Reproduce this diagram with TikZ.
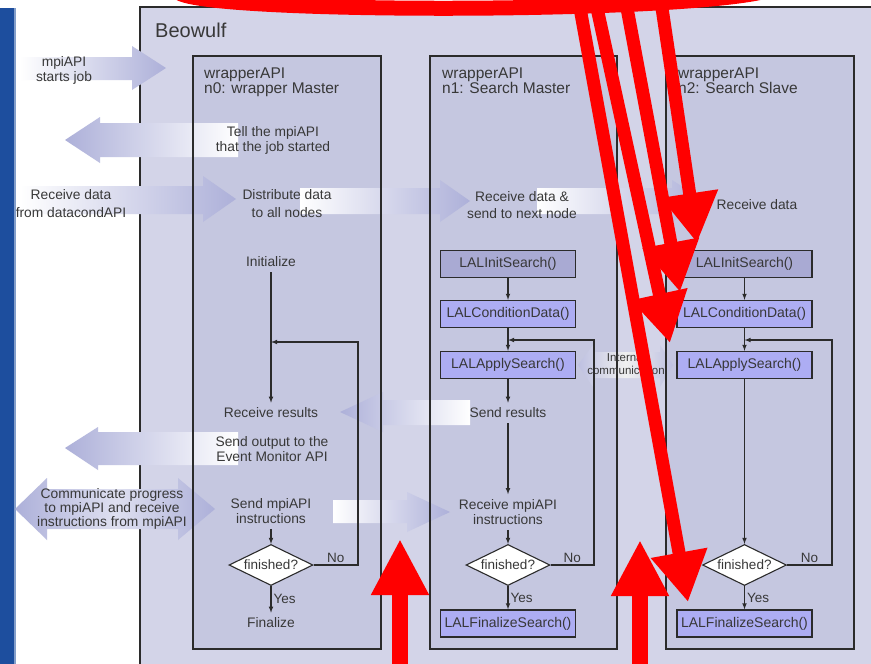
\documentclass[tikz,border=0pt]{standalone}
\usepackage{fontspec}
\setmainfont{Liberation Sans}
\usetikzlibrary{shapes.geometric,arrows.meta}
\definecolor{bluebar}{HTML}{1D4E9E}
\definecolor{beowulfbg}{HTML}{D3D4E8}
\definecolor{innerbg}{HTML}{C5C7E0}
\definecolor{initfill}{HTML}{A9AAD3}
\definecolor{lalfill}{HTML}{ADADF3}
\definecolor{lav}{HTML}{ADB0D9}
\definecolor{textc}{HTML}{383838}
\definecolor{linec}{HTML}{2B2B2B}
\tikzset{
  boxline/.style={draw=linec, line width=1.3pt},
  txt/.style={font=\fontsize{13.8}{15}\selectfont, text=textc, align=center, inner sep=5pt},
  lbl/.style={font=\fontsize{13.5}{14}\selectfont, text=textc, inner sep=2pt},
  coltitle/.style={font=\fontsize{15.5}{15}\selectfont, text=textc, align=left, anchor=north west, inner sep=0pt},
  lalbox/.style={draw=linec, line width=1.3pt, fill=lalfill, minimum width=135pt, minimum height=27pt, inner sep=0pt, font=\fontsize{14}{14}\selectfont, text=textc},
  decision/.style={diamond, draw=linec, fill=white, line width=1.1pt, shape aspect=2, minimum width=84pt, minimum height=41pt, inner sep=0.5pt, font=\fontsize{13.5}{14}\selectfont, text=textc},
  flow/.style={draw=linec, line width=1.1pt, >=latex, ->},
  redline/.style={draw=red, line width=15pt},
  redmark/.style={draw=red, line width=13pt, -{Triangle[length=50pt,width=54pt]}},
  redup/.style={draw=red, line width=16pt, -{Triangle[length=56pt,width=54pt]}},
}
\begin{document}
\begin{tikzpicture}[x=1pt,y=-1pt]
\useasboundingbox (0,0) rectangle (871,664);
\clip (0,0) rectangle (871,664);
\fill[white] (0,0) rectangle (871,664);
\fill[bluebar] (0,8) rectangle (14,664);
\fill[bluebar!55!white] (14,8) rectangle (16,664);
\fill[beowulfbg] (140,7) rectangle (880,680);
\draw[boxline] (880,7) -- (140,7) -- (140,680);
\fill[innerbg] (193,56) rectangle (381,649);
\fill[innerbg] (430,56) rectangle (617,649);
\fill[innerbg] (666,56) rectangle (854,649);
\shade[left color=white, right color=lav] (20,57) -- (132,57) -- (132,46) -- (166,68) -- (132,90) -- (132,80) -- (20,80) -- cycle;
\shade[left color=lav, right color=white] (238,123) -- (100,123) -- (100,117) -- (65,140) -- (100,163) -- (100,157) -- (238,157) -- cycle;
\shade[left color=white, right color=lav] (20,186) -- (203,186) -- (203,176) -- (236,199) -- (203,222) -- (203,214) -- (20,214) -- cycle;
\shade[left color=white, right color=lav] (300,188) -- (440,188) -- (440,180) -- (470,201) -- (440,222) -- (440,214) -- (300,214) -- cycle;
\shade[left color=white, right color=lav] (537,188) -- (672,188) -- (672,180) -- (705,201) -- (672,222) -- (672,214) -- (537,214) -- cycle;
\shade[left color=lav, right color=white] (470,400) -- (383,400) -- (383,392) -- (340,412) -- (383,432) -- (383,425) -- (470,425) -- cycle;
\shade[left color=lav, right color=white] (238,432) -- (98,432) -- (98,427) -- (65,448) -- (98,470) -- (98,465) -- (238,465) -- cycle;
\shade[left color=lav, right color=lav, middle color=lav!40!white] (15,509) -- (47,478) -- (47,489) -- (178,489) -- (178,478) -- (215,509) -- (178,540) -- (178,529) -- (47,529) -- (47,540) -- cycle;
\shade[left color=white, right color=lav] (333,500) -- (407,500) -- (407,492) -- (450,512) -- (407,532) -- (407,523) -- (333,523) -- cycle;
\shade[left color=lav!80, right color=lav!80, middle color=gray!12] (578,365) -- (593,345) -- (593,352) -- (660,352) -- (660,345) -- (673,365) -- (660,387) -- (660,378) -- (593,378) -- (593,387) -- cycle;
\draw[boxline] (193,56) rectangle (381,649);
\draw[boxline] (430,56) rectangle (617,649);
\draw[boxline] (666,56) rectangle (854,649);
\node[coltitle, font=\fontsize{20}{20}\selectfont] (beowulf) at (155,22.5) {Beowulf};
\node[coltitle] (title0) at (204,68) {wrapperAPI\\n0: wrapper Master};
\node[coltitle] (title1) at (442,68) {wrapperAPI\\n1: Search Master};
\node[coltitle] (title2) at (678,68) {wrapperAPI\\n2: Search Slave};
\node[txt] (startjob) at (64,70) {mpiAPI\\starts job};
\node[txt] (tellmpi) at (273,140) {Tell the mpiAPI\\that the job started};
\node[txt, font=\fontsize{13.8}{18}\selectfont] (datacond) at (71,204) {Receive data\\from datacondAPI};
\node[txt, font=\fontsize{13.8}{18}\selectfont] (distrib) at (287,204) {Distribute data\\to all nodes};
\node[txt, font=\fontsize{13.8}{17}\selectfont] (recvdata1) at (522,205) {Receive data \&\\send to next node};
\node[txt] (recvdata2) at (757,205) {Receive data};
\node[txt] (init0) at (271,262) {Initialize};
\node[txt] (recvres0) at (271,413) {Receive results};
\node[txt] (sendout0) at (272,449) {Send output to the\\Event Monitor API};
\node[txt, font=\fontsize{13.8}{14}\selectfont] (commprog) at (112,509) {Communicate progress\\to mpiAPI and receive\\instructions from mpiAPI};
\node[txt] (sendmpi0) at (271,511) {Send mpiAPI\\instructions};
\node[decision] (fin0) at (271,565) {finished?};
\node[txt] (finalize0) at (271,623) {Finalize};
\node[lalbox, fill=initfill] (init1) at (508,264) {LALInitSearch()};
\node[lalbox] (cond1) at (508,314) {LALConditionData()};
\node[lalbox] (apply1) at (508,365) {LALApplySearch()};
\node[txt] (sendres1) at (508,413) {Send results};
\node[txt] (recvmpi1) at (508,512) {Receive mpiAPI\\instructions};
\node[decision] (fin1) at (508,565) {finished?};
\node[lalbox] (finsearch1) at (508,623.5) {LALFinalizeSearch()};
\node[lalbox, fill=initfill] (init2) at (744.5,264) {LALInitSearch()};
\node[lalbox] (cond2) at (744.5,314) {LALConditionData()};
\node[lalbox] (apply2) at (744.5,365) {LALApplySearch()};
\node[decision] (fin2) at (744.5,565) {finished?};
\node[lalbox] (finsearch2) at (744.5,623.5) {LALFinalizeSearch()};
\node[txt, font=\fontsize{11.5}{12.5}\selectfont] (internal) at (626,364) {Internal\\communication};
\coordinate (loop0) at (358,342);
\coordinate (join0) at (271,342);
\coordinate (loop1) at (594,340);
\coordinate (join1) at (508,340);
\coordinate (loop2) at (832,340);
\coordinate (join2) at (744.5,340);
\draw[flow] (init0) -- (recvres0);
\draw[flow] (sendmpi0) -- (fin0);
\draw[flow] (fin0) -- (finalize0) node[midway, right, lbl] {Yes};
\draw[flow] (fin0.east) -| (loop0) node[pos=0.25, above, lbl] {No} -- (join0);
\draw[flow] (init1) -- (cond1);
\draw[flow] (cond1) -- (apply1);
\draw[flow] (apply1) -- (sendres1);
\draw[flow] (sendres1) -- (recvmpi1);
\draw[flow] (recvmpi1) -- (fin1);
\draw[flow] (fin1) -- (finsearch1) node[midway, right, lbl] {Yes};
\draw[flow] (fin1.east) -| (loop1) node[pos=0.25, above, lbl] {No} -- (join1);
\draw[flow] (init2) -- (cond2);
\draw[flow] (cond2) -- (apply2);
\draw[flow] (apply2) -- (fin2);
\draw[flow] (fin2) -- (finsearch2) node[midway, right, lbl] {Yes};
\draw[flow] (fin2.east) -| (loop2) node[pos=0.25, above, lbl] {No} -- (join2);
\coordinate (arcL) at (178,-8);
\coordinate (arcR) at (770,-10);
\draw[redline] (arcL) .. controls (200,14) and (690,14) .. (arcR);
\draw[redmark] (580,8) -- (688,602);
\draw[redmark] (597,8) -- (670,343);
\draw[redmark] (627,8) -- (680,292);
\draw[redmark] (662,8) -- (697,243);
\draw[redup] (400,670) -- (400,539);
\draw[redup] (640,670) -- (640,540);
\end{tikzpicture}
\end{document}
